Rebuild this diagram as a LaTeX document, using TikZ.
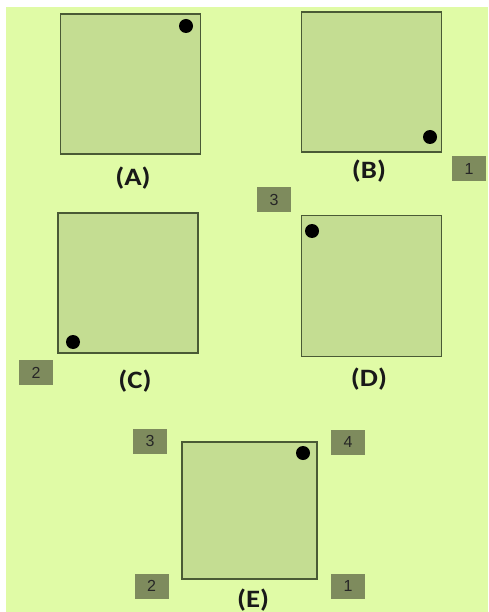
\documentclass[tikz,border=0pt]{standalone}
\usepackage{fontspec}
\setmainfont{Carlito}
\newfontfamily\numfont{Liberation Sans}
\definecolor{bgc}{HTML}{E0FBA6}
\definecolor{sqfill}{HTML}{C4DD92}
\definecolor{sqline}{HTML}{4A5A35}
\definecolor{numfill}{HTML}{7E8B5D}
\begin{document}
\begin{tikzpicture}[x=1pt,y=-1pt,
  sq/.style={draw=sqline,fill=sqfill,line width=1.6pt,minimum width=140pt,minimum height=140pt,inner sep=0pt,outer sep=0pt},
  dot/.style={circle,fill=black,minimum size=14pt,inner sep=0pt},
  lbl/.style={font=\fontsize{25}{27}\selectfont\bfseries,xscale=1.15,inner sep=0pt,text=black!90},
  num/.style={fill=numfill,minimum width=34pt,minimum height=25pt,inner sep=0pt,font=\numfont\fontsize{16}{16}\selectfont,text=black!85}]
\useasboundingbox (0,0) rectangle (488,612);
\fill[white] (0,0) rectangle (488,612);
\fill[bgc] (6,7) rectangle (488,612);
% squares
\node[sq] (A) at (130.5,84) {};
\node[sq] (B) at (371.5,82) {};
\node[sq] (C) at (128,283) {};
\node[sq,minimum height=141pt] (D) at (371.5,286) {};
\node[sq,minimum width=135pt,minimum height=137pt] (E) at (249.5,510.5) {};
% dots
\node[dot] (dA) at (186,26) {};
\node[dot] (dB) at (430,137) {};
\node[dot] (dC) at (73,342) {};
\node[dot] (dD) at (312,231) {};
\node[dot] (dE) at (303,453) {};
% labels
\node[lbl] (lA) at (133,178) {(A)};
\node[lbl] (lB) at (369,171) {(B)};
\node[lbl] (lC) at (135,381) {(C)};
\node[lbl] (lD) at (369,379) {(D)};
\node[lbl] (lE) at (253,600) {(E)};
% number boxes
\node[num] (n1) at (469,169) {1};
\node[num] (n3) at (274,200) {3};
\node[num] (n2) at (36,372.5) {2};
\node[num] (e3) at (150,441) {3};
\node[num] (e4) at (348,442) {4};
\node[num] (e2) at (151.5,586) {2};
\node[num] (e1) at (348,586) {1};
\end{tikzpicture}
\end{document}
